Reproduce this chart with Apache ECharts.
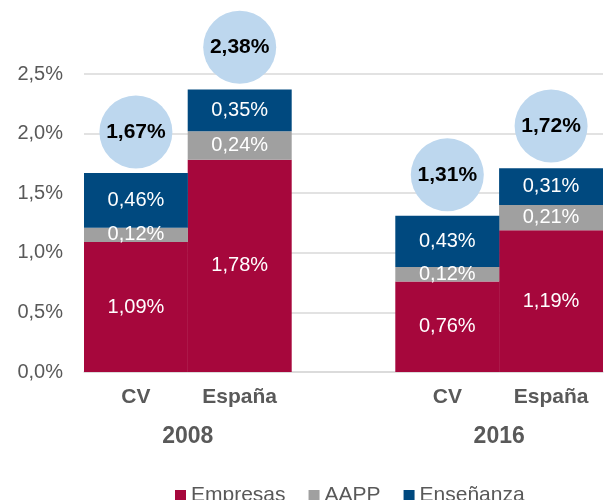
<!DOCTYPE html>
<html>
<head>
<meta charset="utf-8">
<script src="https://cdn.jsdelivr.net/npm/echarts@6/dist/echarts.min.js"></script>
<style>
  html, body { margin: 0; padding: 0; background: #fff; }
  #main { width: 606px; height: 500px; }
</style>
</head>
<body>
<div id="main"></div>
<script>
var categories = ['CV', 'España', '', 'CV', 'España'];
var years = ['2008', '2016'];
var empresas = [1.09, 1.78, '-', 0.76, 1.19];
var aapp = [0.12, 0.24, '-', 0.12, 0.21];
var ensenanza = [0.46, 0.35, '-', 0.43, 0.31];
var totals = [1.67, 2.38, '-', 1.31, 1.72];
var yTicks = [0, 0.5, 1, 1.5, 2, 2.5];

var font = 'Liberation Sans, Arial, sans-serif';

function pct(v, d) {
  return v.toFixed(d).replace('.', ',') + '%';
}

var chart = echarts.init(document.getElementById('main'));

function barSeries(name, data, color) {
  return {
    name: name,
    type: 'bar',
    stack: 'total',
    data: data,
    barWidth: 104,
    itemStyle: { color: color },
    label: {
      show: true,
      position: 'inside',
      color: '#fff',
      fontSize: 20,
      fontFamily: font,
      formatter: function (p) { return pct(p.value, 2); }
    }
  };
}

var option = {
  animation: false,
  textStyle: { fontFamily: font },
  grid: { left: 84, top: 74, width: 525, bottom: 128 },
  legend: {
    data: ['Empresas', 'AAPP', 'Enseñanza'],
    left: 170,
    top: 480,
    icon: 'rect',
    itemWidth: 11,
    itemHeight: 11,
    itemGap: 23,
    textStyle: { fontSize: 21, color: '#595959', fontFamily: font }
  },
  xAxis: [{
    type: 'category',
    data: categories,
    axisLine: { lineStyle: { color: '#D9D9D9', width: 1.5 } },
    axisTick: { show: false },
    axisLabel: { fontSize: 21, fontWeight: 'bold', color: '#595959', margin: 15, fontFamily: font }
  }, {
    type: 'value',
    position: 'bottom',
    min: 0,
    max: 5,
    interval: 1,
    axisLine: { show: false },
    axisTick: { show: false },
    splitLine: { show: false },
    axisLabel: {
      fontSize: 23, fontWeight: 'bold', color: '#595959', margin: 53, fontFamily: font,
      formatter: function (v) {
        if (v === 1) return years[0];
        if (v === 4) return years[1];
        return '';
      }
    }
  }],
  yAxis: {
    type: 'value',
    min: yTicks[0],
    max: yTicks[yTicks.length - 1],
    interval: 0.5,
    axisLine: { show: false },
    axisTick: { show: false },
    splitLine: { lineStyle: { color: '#D9D9D9', width: 1.5 } },
    axisLabel: {
      fontSize: 20, color: '#595959', margin: 21, fontFamily: font,
      formatter: function (v) { return pct(v, 1); }
    }
  },
  series: [
    barSeries('Empresas', empresas, '#A6073C'),
    barSeries('AAPP', aapp, '#A0A0A0'),
    barSeries('Enseñanza', ensenanza, '#00497F'),
    {
      name: 'Total',
      type: 'scatter',
      data: totals,
      symbol: 'circle',
      symbolSize: 73,
      symbolOffset: [0, -41],
      itemStyle: { color: '#BDD7EE', opacity: 1 },
      label: {
        show: true,
        position: 'inside',
        color: '#000',
        fontSize: 21,
        fontWeight: 'bold',
        fontFamily: font,
        formatter: function (p) { return pct(p.value, 2); }
      },
      z: 5
    }
  ]
};

chart.setOption(option);
</script>
</body>
</html>
